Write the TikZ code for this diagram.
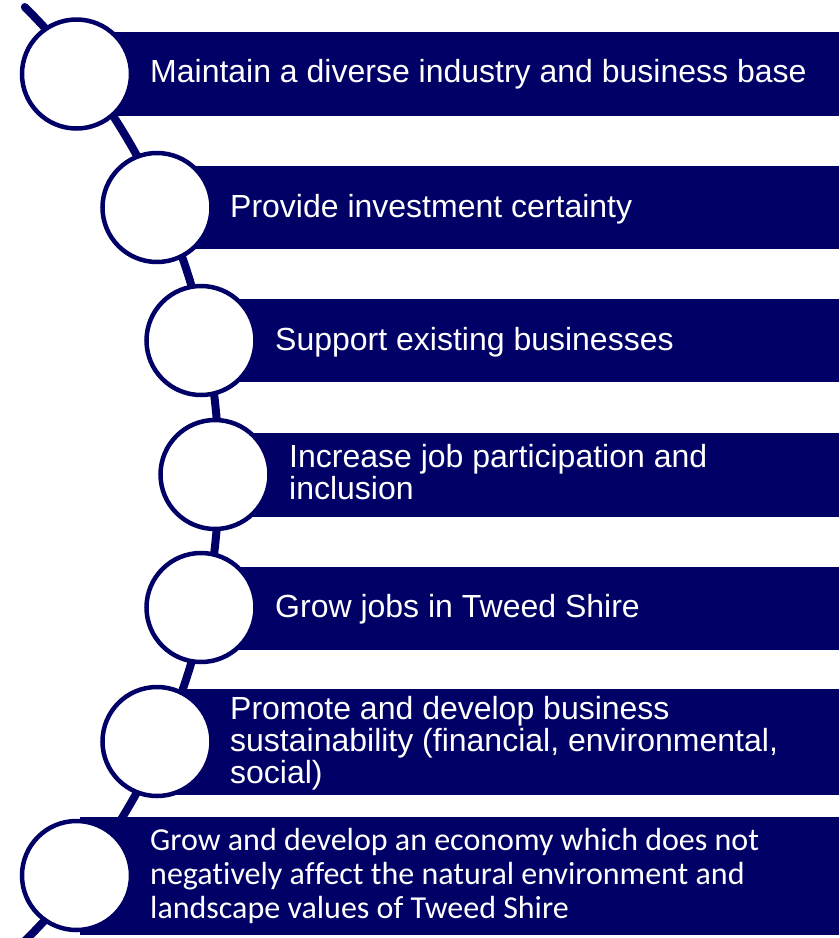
\documentclass[tikz,border=0pt]{standalone}
\usepackage{fontspec}
\setmainfont{Liberation Sans}
\newfontfamily\calib[Ligatures=NoCommon]{Carlito}
\definecolor{navy}{RGB}{0,0,102}
\begin{document}
\begin{tikzpicture}[x=1pt,y=-1pt,
  bar/.style={fill=navy},
  ring/.style={circle, draw=navy, line width=4.5pt, fill=white, minimum size=109pt, inner sep=0pt},
  lbl/.style={anchor=base west, text=white, inner sep=0pt, font=\fontsize{32}{32}\selectfont},
  lblc/.style={anchor=base west, text=white, inner sep=0pt, font=\calib\fontsize{32}{34}\selectfont},
  spine/.style={draw=navy, line width=8pt, line cap=round}]
\useasboundingbox (0,0) rectangle (839,938);
% centres
\coordinate (p1) at (76.5,74);
\coordinate (p2) at (157,207.5);
\coordinate (p3) at (201,340.5);
\coordinate (p4) at (215,474.5);
\coordinate (p5) at (201,607.5);
\coordinate (p6) at (157,741.5);
\coordinate (p7) at (76.5,875.5);
% spine: arc of a large circle
\draw[spine] plot[domain=-46:45.15, samples=90] ({-439.7+658.7*cos(\x)},{474-658.7*sin(\x)});
% bars
\path[bar] (76.5,32) rectangle (839,116);
\path[bar] (157,166) rectangle (839,249);
\path[bar] (201,299) rectangle (839,382);
\path[bar] (215,433) rectangle (839,517);
\path[bar] (201,567) rectangle (839,650);
\path[bar] (157,689) rectangle (839,795);
\path[bar] (80,817) rectangle (839,935);
% circles
\node[ring] (c1) at (p1) {};
\node[ring] (c2) at (p2) {};
\node[ring] (c3) at (p3) {};
\node[ring] (c4) at (p4) {};
\node[ring] (c5) at (p5) {};
\node[ring] (c6) at (p6) {};
\node[ring] (c7) at (p7) {};
% labels
\node[lbl] (t1) at (150,82) {Maintain a diverse industry and business base};
\node[lbl] (t2) at (230,217) {Provide investment certainty};
\node[lbl] (t3) at (275,350) {Support existing businesses};
\node[lbl] (t4a) at (289,467) {Increase job participation and};
\node[lbl] (t4b) at (289,499) {inclusion};
\node[lbl] (t5) at (275,617) {Grow jobs in Tweed Shire};
\node[lbl] (t6a) at (230,719) {Promote and develop business};
\node[lbl] (t6b) at (230,751) {sustainability (financial, environmental,};
\node[lbl] (t6c) at (230,783) {social)};
\node[lblc] (t7a) at (150,850) {Grow and develop an economy which does not};
\node[lblc] (t7b) at (150,884) {negatively af\kern0ptfect the natural environment and};
\node[lblc] (t7c) at (150,918) {landscape values of Tweed Shire};
\end{tikzpicture}
\end{document}
